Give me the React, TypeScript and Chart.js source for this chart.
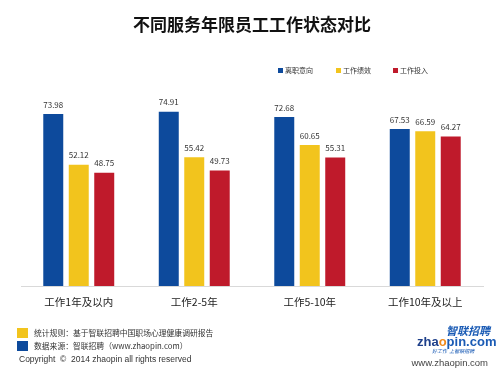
import React, { useEffect, useRef } from "react";
import { Chart, registerables } from "chart.js";

Chart.register(...registerables);

const titleText = "不同服务年限员工工作状态对比";
const categories = ["工作1年及以内", "工作2-5年", "工作5-10年", "工作10年及以上"];
const seriesNames = ["离职意向", "工作绩效", "工作投入"];
const turnoverIntent = [73.98, 74.91, 72.68, 67.53];
const performance = [52.12, 55.42, 60.65, 66.59];
const engagement = [48.75, 49.73, 55.31, 64.27];
const seriesColors = ["#0d4a9c", "#f2c41d", "#bf1a2b"];
const yMax = 80;
const noteLines = [
  "统计规则：基于智联招聘中国职场心理健康调研报告",
  "数据来源：智联招聘（www.zhaopin.com）",
];
const copyrightText = "Copyright  ©  2014 zhaopin all rights reserved";
const siteText = "www.zhaopin.com";

const CJK = '"Noto Sans CJK SC", "Noto Sans", sans-serif';

const extrasPlugin = {
  id: "extras",
  afterDatasetsDraw(chart: any) {
    const ctx = chart.ctx;
    ctx.save();
    ctx.font = `8px ${CJK}`;
    ctx.fillStyle = "#333333";
    ctx.textAlign = "center";
    ctx.textBaseline = "middle";
    chart.data.datasets.forEach((ds: any, di: number) => {
      const meta = chart.getDatasetMeta(di);
      meta.data.forEach((bar: any, i: number) => {
        ctx.fillText(Number(ds.data[i]).toFixed(2), bar.x, bar.y - 9.5);
      });
    });
    ctx.restore();
  },
  afterDraw(chart: any) {
    const ctx = chart.ctx;
    ctx.save();
    // legend
    const legendX = [278, 336, 393];
    ctx.font = `7px ${CJK}`;
    ctx.textBaseline = "middle";
    ctx.textAlign = "left";
    chart.data.datasets.forEach((ds: any, di: number) => {
      ctx.fillStyle = ds.backgroundColor;
      ctx.fillRect(legendX[di], 68, 5, 5);
      ctx.fillStyle = "#333333";
      ctx.fillText(ds.label, legendX[di] + 7, 70.5);
    });
    // footnotes
    ctx.fillStyle = seriesColors[1];
    ctx.fillRect(17, 328, 11, 10);
    ctx.fillStyle = seriesColors[0];
    ctx.fillRect(17, 341, 11, 10);
    ctx.fillStyle = "#333333";
    ctx.font = `7.8px ${CJK}`;
    ctx.fillText(noteLines[0], 34, 333.5);
    ctx.fillText(noteLines[1], 34, 346.5);
    ctx.font = `8.5px "Liberation Sans", Arial, sans-serif`;
    ctx.fillText(copyrightText, 19, 359.5);
    // logo
    ctx.textAlign = "right";
    ctx.fillStyle = "#444444";
    ctx.font = `9.5px "Liberation Sans", Arial, sans-serif`;
    ctx.fillText(siteText, 488, 363);
    ctx.fillStyle = "#1a5bb5";
    ctx.font = `italic bold 11px ${CJK}`;
    ctx.fillText("智联招聘", 490, 331);
    ctx.font = `bold 13px "Liberation Sans", Arial, sans-serif`;
    ctx.textAlign = "left";
    const parts = [
      ["zha", "#1d3f8a"],
      ["o", "#f08a1c"],
      ["pin.com", "#1a5bb5"],
    ];
    let x = 417;
    parts.forEach(([t, c]) => {
      ctx.fillStyle = c;
      ctx.fillText(t, x, 342);
      x += ctx.measureText(t).width;
    });
    ctx.fillStyle = "#1a5bb5";
    ctx.font = `italic 5px ${CJK}`;
    ctx.fillText("好工作  上智联招聘", 432, 351);
    ctx.restore();
  },
};

export default function App() {
  const ref = useRef<HTMLCanvasElement | null>(null);
  useEffect(() => {
    if (!ref.current) return;
    const data = [turnoverIntent, performance, engagement];
    const chart = new Chart(ref.current, {
      type: "bar",
      data: {
        labels: categories,
        datasets: seriesNames.map((name, i) => ({
          label: name,
          data: data[i],
          backgroundColor: seriesColors[i],
          borderWidth: 0,
          categoryPercentage: 0.662,
          barPercentage: 0.784,
        })),
      },
      options: {
        responsive: false,
        animation: false,
        events: [],
        layout: { padding: { left: 21, right: 17, top: 0, bottom: 0 } },
        plugins: {
          legend: { display: false },
          tooltip: { enabled: false },
          title: {
            display: true,
            text: titleText,
            color: "#111111",
            font: { size: 17, weight: "bold", family: CJK },
            padding: { top: 14, bottom: 65.6 },
          },
        },
        scales: {
          x: {
            grid: { display: false },
            border: { display: true, color: "#d9d9d9", width: 1 },
            ticks: {
              color: "#222222",
              font: { size: 10.5, family: CJK },
              padding: 2,
              maxRotation: 0,
            },
            afterFit: (scale: any) => {
              scale.height = 84;
            },
          },
          y: {
            display: false,
            min: 0,
            max: yMax,
          },
        },
      },
      plugins: [extrasPlugin],
    } as any);
    return () => chart.destroy();
  }, []);
  return (
    <div
      style={{
        position: "absolute",
        left: 0,
        top: 0,
        width: 500,
        height: 370,
        background: "#ffffff",
      }}
    >
      <canvas ref={ref} width={500} height={370} style={{ display: "block" }} />
    </div>
  );
}
